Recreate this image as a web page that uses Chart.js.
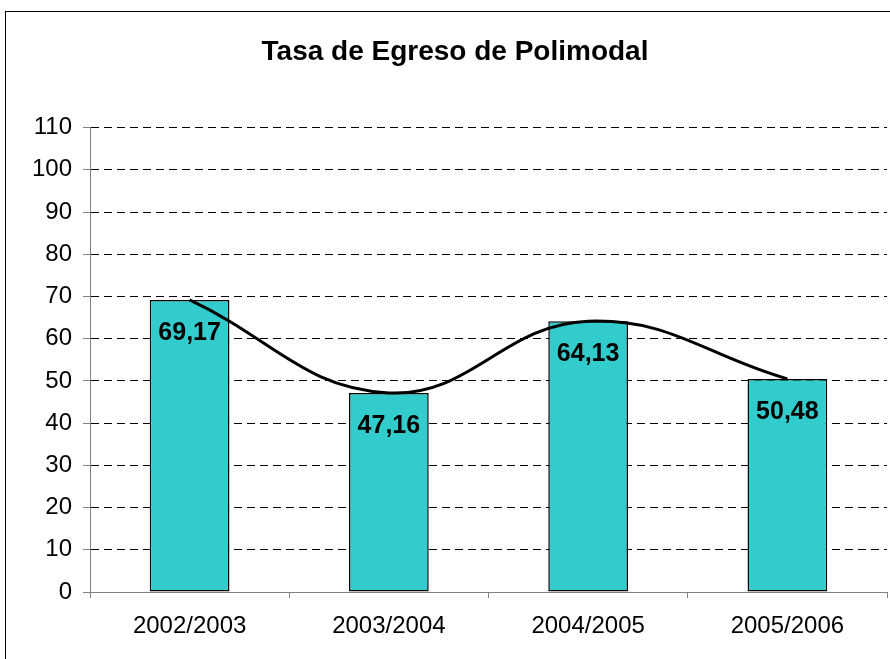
<!DOCTYPE html>
<html><head><meta charset="utf-8">
<script src="https://cdn.jsdelivr.net/npm/chart.js@4.4.1/dist/chart.umd.min.js"></script>
<style>html,body{margin:0;padding:0;background:#fff;} canvas{display:block;}</style>
</head><body>
<canvas id="c" width="890" height="659"></canvas>
<script>
const chartTitle = 'Tasa de Egreso de Polimodal';
const categories = ['2002/2003', '2003/2004', '2004/2005', '2005/2006'];
const tasaEgreso = [69.17, 47.16, 64.13, 50.48];
const trendValues = [69.17, 47.16, 64.13, 50.48];
const yMin = 0, yMax = 110, yStep = 10;

Chart.defaults.font.family = '"Liberation Sans", Arial, sans-serif';
Chart.defaults.color = '#000';

const frame = {
  id: 'frame',
  beforeDraw(chart) {
    const ctx = chart.ctx;
    ctx.save();
    ctx.fillStyle = '#fff';
    ctx.fillRect(0, 0, chart.width, chart.height);
    ctx.strokeStyle = '#000';
    ctx.lineWidth = 1;
    ctx.strokeRect(5.5, 11.5, chart.width + 10, chart.height + 10);
    ctx.restore();
  }
};

const barLabels = {
  id: 'barLabels',
  afterDatasetsDraw(chart) {
    const meta = chart.getDatasetMeta(0);
    const ds = chart.data.datasets[0];
    const ctx = chart.ctx;
    ctx.save();
    ctx.font = 'bold 25px "Liberation Sans", Arial, sans-serif';
    ctx.fillStyle = '#000';
    ctx.textAlign = 'center';
    ctx.textBaseline = 'middle';
    meta.data.forEach((el, i) => {
      ctx.fillText(ds.data[i].toFixed(2).replace('.', ','), el.x, el.y + 33);
    });
    ctx.restore();
  }
};

new Chart(document.getElementById('c'), {
  type: 'bar',
  data: {
    labels: categories,
    datasets: [
      {
        type: 'bar',
        data: tasaEgreso,
        backgroundColor: '#33CCCC',
        borderColor: '#000',
        borderWidth: 1.5,
        borderSkipped: false,
        barPercentage: 0.4,
        categoryPercentage: 1,
        order: 1
      },
      {
        type: 'line',
        data: trendValues,
        borderColor: '#000',
        borderWidth: 3,
        tension: 0.42,
        pointRadius: 0,
        fill: false,
        order: 0
      }
    ]
  },
  options: {
    responsive: false,
    devicePixelRatio: 1,
    animation: false,
    layout: { padding: { left: 23, right: 3, top: 0, bottom: 0 } },
    plugins: {
      legend: { display: false },
      tooltip: { enabled: false },
      title: {
        display: true,
        text: chartTitle,
        color: '#000',
        font: { size: 28, weight: 'bold' },
        padding: { top: 35, bottom: 59 }
      }
    },
    scales: {
      x: {
        offset: true,
        grid: { offset: true, drawOnChartArea: false, drawTicks: true, tickLength: 6, tickColor: '#808080', tickBorderDash: [] },
        border: { color: '#808080', width: 1 },
        ticks: { font: { size: 24 }, color: '#000', padding: 14, maxRotation: 0, autoSkip: false },
        afterFit(s) { s.height = 67; }
      },
      y: {
        min: yMin,
        max: yMax,
        ticks: { stepSize: yStep, font: { size: 24 }, color: '#000', padding: 11 },
        grid: {
          color: (c) => (c.tick && c.tick.value === 0) ? 'rgba(0,0,0,0)' : '#000',
          lineWidth: 1,
          tickLength: 7,
          tickColor: '#808080',
          tickBorderDash: []
        },
        border: { color: '#808080', width: 1, dash: [8, 5] },
        afterFit(s) { s.width = 67; }
      }
    }
  },
  plugins: [frame, barLabels]
});
</script>
</body></html>
